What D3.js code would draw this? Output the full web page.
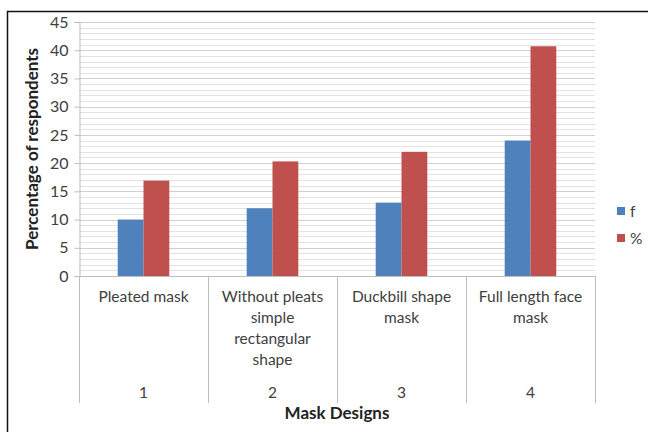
<!DOCTYPE html>
<html>
<head>
<meta charset="utf-8">
<script src="https://cdn.jsdelivr.net/npm/d3@7/dist/d3.min.js"></script>
<style>
  html, body { margin: 0; padding: 0; background: #fff; }
  svg { display: block; font-family: Lato, "Open Sans", sans-serif; }
</style>
</head>
<body>
<svg id="chart" width="648" height="432"></svg>
<script>
// Mask design survey data
const categories = ["1", "2", "3", "4"];
const categoryNames = [
  ["Pleated mask"],
  ["Without pleats", "simple", "rectangular", "shape"],
  ["Duckbill shape", "mask"],
  ["Full length face", "mask"]
];
const seriesNames = ["f", "%"];
const fValues = [10, 12, 13, 24];
const pctValues = [16.9, 20.3, 22.0, 40.7];
const yTicks = [0, 5, 10, 15, 20, 25, 30, 35, 40, 45];
const colors = ["#4f81bd", "#c0504d"];

const svg = d3.select("#chart");
const plotLeft = 79, plotRight = 595, plotTop = 22, plotBottom = 276;
const labelSize = "15.5px";

// outer frame (top and left edges visible)
svg.append("path")
  .attr("d", "M7.5,432 V11.5 H648")
  .attr("fill", "none").attr("stroke", "#111").attr("stroke-width", 1.5);

const y = d3.scaleLinear().domain([0, 45]).range([plotBottom, plotTop]);
const x0 = d3.scaleBand().domain(categories).range([plotLeft, plotRight]).paddingInner(0).paddingOuter(0);
// two bars plus a 300% gap per category
const barW = x0.bandwidth() / 5;

// minor gridlines every 1 unit, major every 5
const minor = d3.range(1, 46).filter(v => v % 5 !== 0);
svg.append("g").selectAll("line").data(minor).join("line")
  .attr("x1", plotLeft).attr("x2", plotRight)
  .attr("y1", d => Math.round(y(d)) + 0.5).attr("y2", d => Math.round(y(d)) + 0.5)
  .attr("stroke", "#e3e3e3").attr("stroke-width", 1.2);
svg.append("g").selectAll("line").data(yTicks.filter(v => v > 0)).join("line")
  .attr("x1", plotLeft).attr("x2", plotRight)
  .attr("y1", d => Math.round(y(d)) + 0.5).attr("y2", d => Math.round(y(d)) + 0.5)
  .attr("stroke", "#d0d0d0").attr("stroke-width", 1.2);

// bars
const series = [fValues, pctValues];
const groups = svg.append("g").selectAll("g").data(categories).join("g");
groups.each(function(c, i) {
  const cx = x0(c) + x0.bandwidth() / 2;
  d3.select(this).selectAll("rect").data(series.map((s, k) => ({ v: s[i], k })))
    .join("rect")
    .attr("x", d => cx - barW + d.k * barW)
    .attr("width", barW)
    .attr("y", d => y(d.v))
    .attr("height", d => y(0) - y(d.v))
    .attr("fill", d => colors[d.k]);
});

// y axis
const yAxis = d3.axisLeft(y).tickValues(yTicks).tickSize(5).tickPadding(6);
const gy = svg.append("g").attr("transform", `translate(${plotLeft + 0.5},0)`).call(yAxis);
gy.select(".domain").attr("stroke", "#bdbdbd");
gy.selectAll(".tick line").attr("stroke", "#bdbdbd");
gy.selectAll(".tick text").attr("fill", "#404040").style("font-size", "16px")
  .attr("font-family", "Lato, 'Open Sans', sans-serif");

// x axis baseline and category dividers
svg.append("line").attr("x1", plotLeft).attr("x2", plotRight)
  .attr("y1", plotBottom + 0.5).attr("y2", plotBottom + 0.5).attr("stroke", "#bdbdbd");
const dividers = categories.map(c => x0(c)).concat([plotRight]);
svg.append("g").selectAll("line").data(dividers).join("line")
  .attr("x1", d => Math.round(d) + 0.5).attr("x2", d => Math.round(d) + 0.5)
  .attr("y1", plotBottom).attr("y2", 403)
  .attr("stroke", "#bdbdbd");

// category names (multi-line) and numbers
const lab = svg.append("g").attr("fill", "#404040").style("font-size", labelSize).attr("text-anchor", "middle");
categories.forEach((c, i) => {
  const cx = x0(c) + x0.bandwidth() / 2;
  categoryNames[i].forEach((line, j) => {
    lab.append("text").attr("x", cx).attr("y", 302 + j * 21).text(line);
  });
  lab.append("text").attr("x", cx).attr("y", 398).text(c);
});

// axis titles
svg.append("text").attr("x", (plotLeft + plotRight) / 2).attr("y", 419)
  .attr("text-anchor", "middle").attr("font-weight", "bold").style("font-size", "17px")
  .attr("fill", "#222").text("Mask Designs");
svg.append("text")
  .attr("transform", `translate(38,${(plotTop + plotBottom) / 2}) rotate(-90)`)
  .attr("text-anchor", "middle").attr("font-weight", "bold").style("font-size", "17px")
  .attr("fill", "#222").text("Percentage of respondents");

// legend
const legend = svg.append("g");
seriesNames.forEach((s, k) => {
  const ly = 211 + k * 27;
  legend.append("rect").attr("x", 617).attr("y", ly - 4).attr("width", 8).attr("height", 8).attr("fill", colors[k]);
  legend.append("text").attr("x", 630).attr("y", ly + 5.5).style("font-size", labelSize).attr("fill", "#404040").text(s);
});
</script>
</body>
</html>
